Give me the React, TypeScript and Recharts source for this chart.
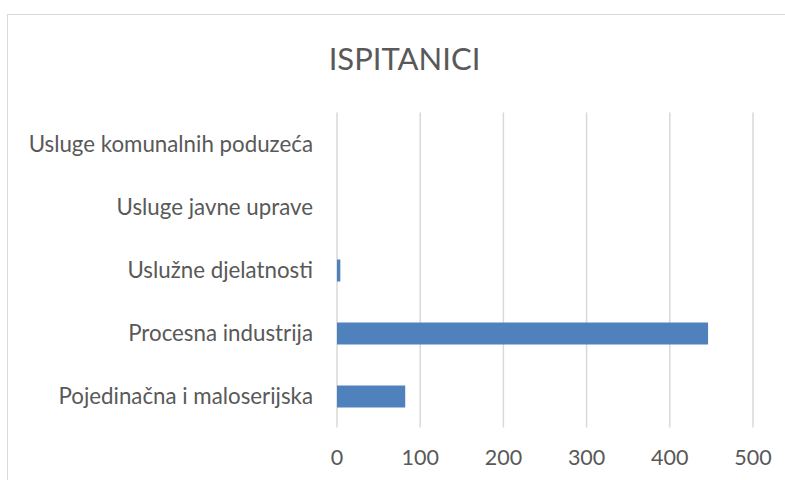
import { BarChart, Bar, XAxis, YAxis, CartesianGrid } from 'recharts';

const categories = [
  'Usluge komunalnih poduzeća',
  'Usluge javne uprave',
  'Uslužne djelatnosti',
  'Procesna industrija',
  'Pojedinačna i maloserijska',
];
const respondents = [0, 0, 4, 446, 82];
const xTicks = [0, 100, 200, 300, 400, 500];

const data = categories.map((name, i) => ({ name, value: respondents[i] }));

const FONT = 'Lato, "Open Sans", sans-serif';
const TEXT = '#595959';

export default function App() {
  return (
    <div
      style={{
        position: 'absolute',
        left: 0,
        top: 0,
        width: 785,
        height: 480,
        overflow: 'hidden',
        background: '#fff',
        fontFamily: FONT,
      }}
    >
      <div
        style={{
          position: 'absolute',
          left: 7,
          top: 14,
          width: 800,
          height: 500,
          border: '1px solid #d9d9d9',
        }}
      />
      <div
        style={{
          position: 'absolute',
          left: 0,
          width: 809,
          top: 40,
          textAlign: 'center',
          fontSize: 31,
          color: TEXT,
          lineHeight: '36px',
        }}
      >
        ISPITANICI
      </div>
      <div style={{ position: 'absolute', left: 0, top: 0 }}>
        <BarChart
          width={785}
          height={480}
          data={data}
          layout="vertical"
          margin={{ top: 112.5, right: 32, bottom: 0, left: 17 }}
          barSize={22}
        >
          <CartesianGrid horizontal={false} stroke="#d9d9d9" strokeWidth={1.5} />
          <XAxis
            type="number"
            domain={[0, 500]}
            ticks={xTicks}
            axisLine={false}
            tickLine={false}
            tickMargin={16}
            height={52.5}
            tick={{ fontSize: 21.5, fill: TEXT, fontFamily: FONT }}
          />
          <YAxis
            type="category"
            dataKey="name"
            width={320}
            axisLine={false}
            tickLine={false}
            tickMargin={18}
            interval={0}
            tick={{ fontSize: 22.3, fill: TEXT, fontFamily: FONT }}
          />
          <Bar dataKey="value" fill="#4f81bd" isAnimationActive={false} />
        </BarChart>
      </div>
    </div>
  );
}
